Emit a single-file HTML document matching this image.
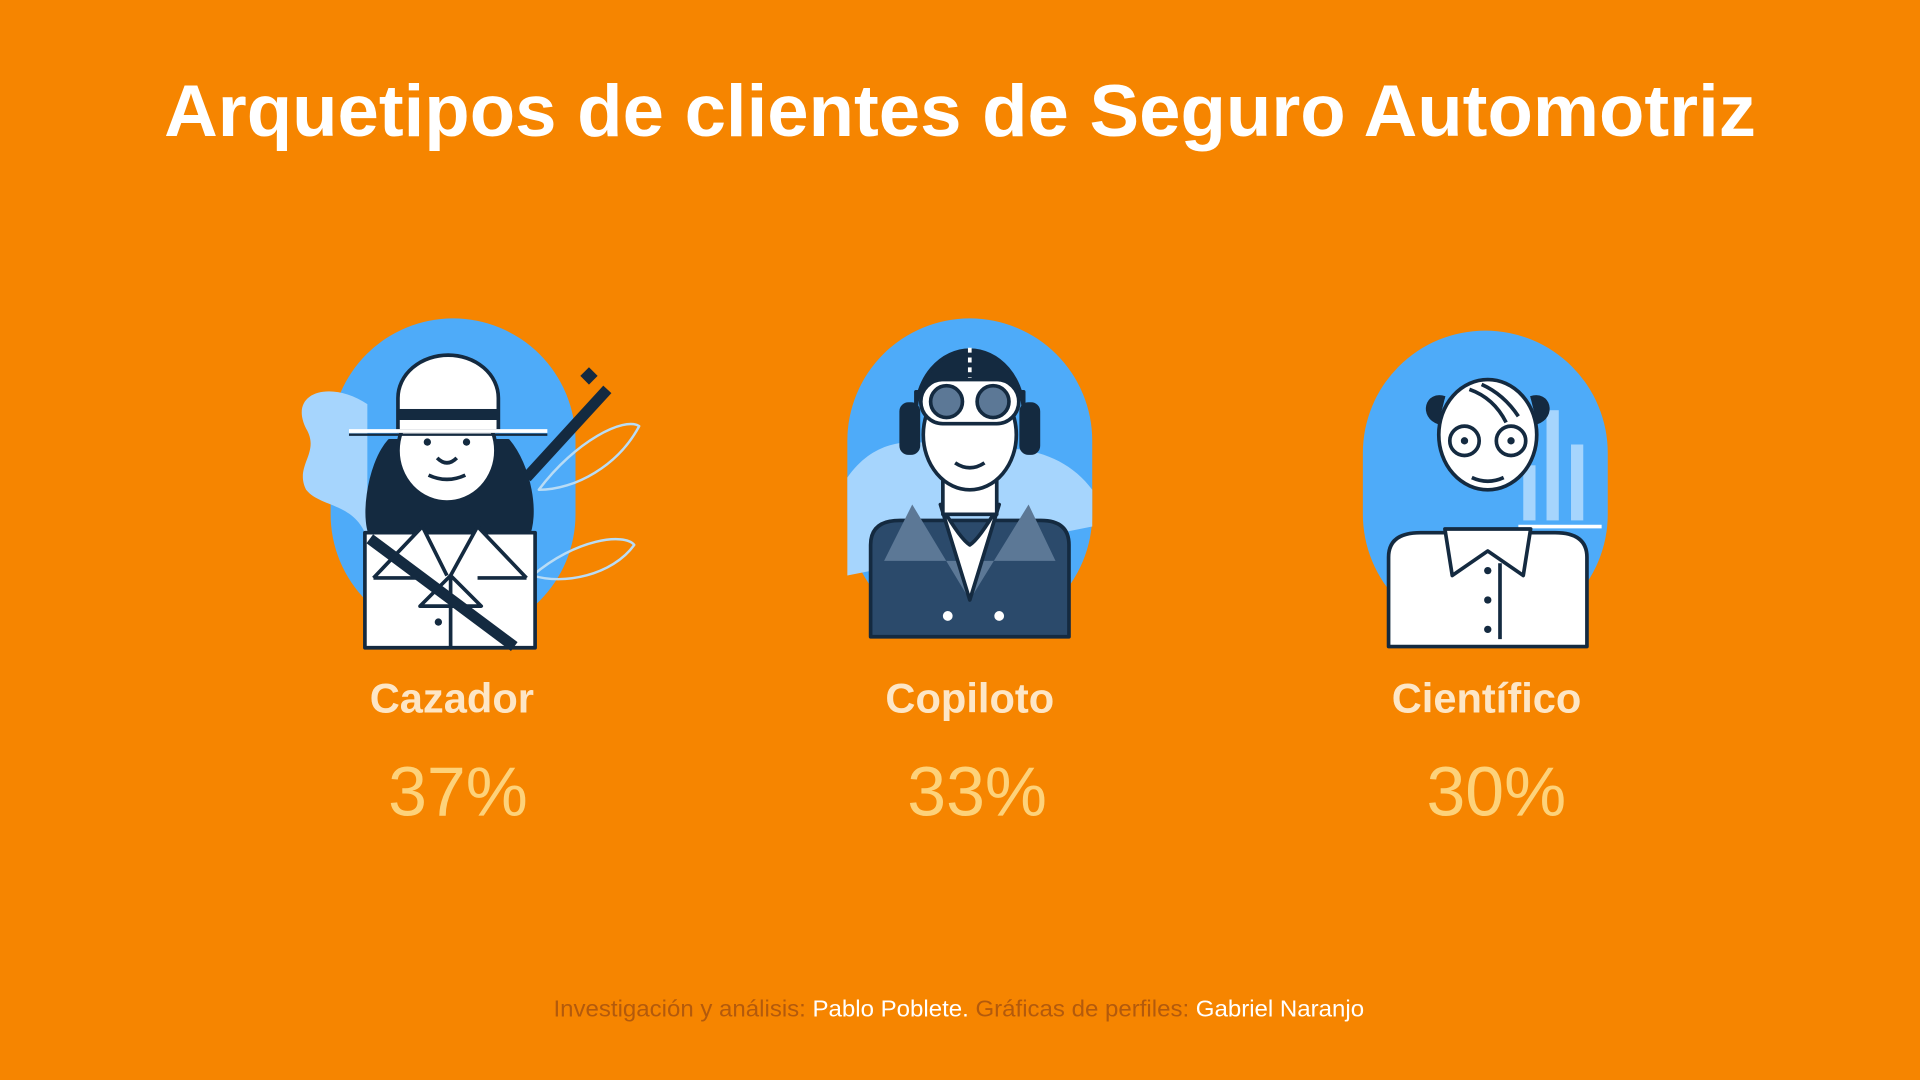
<!DOCTYPE html>
<html><head><meta charset="utf-8"><style>
html,body{margin:0;padding:0;background:#f68500;}
svg{display:block}
text{font-family:"Liberation Sans",sans-serif}
</style></head><body>
<svg width="1920" height="1080" viewBox="0 0 1568 882" xmlns="http://www.w3.org/2000/svg">
<rect width="1568" height="882" fill="#f68500"/>
<text x="784" y="111" text-anchor="middle" font-size="60" font-weight="bold" fill="#fff" textLength="1300" lengthAdjust="spacingAndGlyphs">Arquetipos de clientes de Seguro Automotriz</text>

<!-- Cazador -->
<g stroke="#142a40" stroke-width="3" stroke-linejoin="round">
<path d="M270 360 A100 100 0 0 1 470 360 L470 420 A100 100 0 0 1 270 420 Z" fill="#4eabf9" stroke="none"/>
<path d="M300 330 C270 310 235 320 250 350 C262 370 240 380 250 400 C262 415 290 410 300 440 Z" fill="#a6d5fd" stroke="none"/>
<path d="M440 400 C470 360 510 340 522 348 C505 380 470 400 440 400Z" fill="none" stroke="#b9dcf5" stroke-width="2"/>
<path d="M435 470 C470 440 510 435 518 445 C500 470 460 478 435 470Z" fill="none" stroke="#b9dcf5" stroke-width="2"/>
<line x1="430" y1="390" x2="496" y2="318" stroke-width="9"/>
<rect x="476" y="302" width="10" height="10" fill="#142a40" stroke="none" transform="rotate(45 481 307)"/>
<path d="M318 360 C300 380 295 430 305 440 L430 440 C440 420 432 380 415 360 Z" fill="#142a40"/>
<rect x="298" y="435" width="139" height="94" fill="#fff"/>
<path d="M305 472 L345 430 L365 470 M430 472 L390 430 L368 470 M345 472 L305 472 M390 472 L430 472 M343 495 L368 470 L393 495 Z" fill="#fff"/>
<line x1="368" y1="470" x2="368" y2="528"/>
<line x1="302" y1="440" x2="420" y2="528" stroke-width="9"/>
<circle cx="358" cy="508" r="3" fill="#142a40" stroke="none"/>
<ellipse cx="365" cy="368" rx="40" ry="42" fill="#fff"/>
<path d="M325 352 L325 325 A41 35 0 0 1 407 325 L407 352 Z" fill="#fff"/>
<rect x="325" y="334" width="82" height="9" fill="#142a40" stroke="none"/>
<line x1="285" y1="352" x2="447" y2="352" stroke="#fff" stroke-width="3"/>
<line x1="285" y1="355" x2="447" y2="355" stroke-width="2"/>
<circle cx="349" cy="361" r="3" fill="#142a40" stroke="none"/>
<circle cx="381" cy="361" r="3" fill="#142a40" stroke="none"/>
<path d="M357 374 Q365 382 373 374" fill="none"/>
<path d="M350 388 Q365 395 380 388" fill="none"/>
</g>

<!-- Copiloto -->
<g stroke="#142a40" stroke-width="3" stroke-linejoin="round">
<path d="M692 360 A100 100 0 0 1 892 360 L892 420 A100 100 0 0 1 692 420 Z" fill="#4eabf9" stroke="none"/>
<path d="M692 390 C720 350 760 360 790 370 C830 360 870 370 892 400 L892 430 L692 470 Z" fill="#a6d5fd" stroke="none"/>
<path d="M711 520 L711 445 Q711 425 735 425 L850 425 Q873 425 873 445 L873 520 Z" fill="#2b4a6b"/>
<path d="M722 458 L745 412 L792 490 L840 412 L862 458 Z" fill="#5c7896" stroke="none"/>
<path d="M768 412 L792 490 L816 412 Q800 440 792 445 Q784 440 768 412Z" fill="#fff"/>
<circle cx="774" cy="503" r="4" fill="#fff" stroke="none"/>
<circle cx="816" cy="503" r="4" fill="#fff" stroke="none"/>
<rect x="770" y="380" width="44" height="40" fill="#fff"/>
<ellipse cx="792" cy="355" rx="38" ry="45" fill="#fff"/>
<path d="M748 338 A44 52 0 0 1 836 338 L836 320 L748 320 Z" fill="#142a40"/>
<rect x="736" y="330" width="14" height="40" rx="6" fill="#142a40"/>
<rect x="834" y="330" width="14" height="40" rx="6" fill="#142a40"/>
<line x1="792" y1="284" x2="792" y2="310" stroke="#fff" stroke-dasharray="4 4"/>
<rect x="752" y="310" width="80" height="36" rx="18" fill="#fff"/>
<circle cx="773" cy="328" r="13" fill="#5c7896"/>
<circle cx="811" cy="328" r="13" fill="#5c7896"/>
<path d="M780 378 Q792 386 804 378" fill="none"/>
</g>

<!-- Cientifico -->
<g stroke="#142a40" stroke-width="3" stroke-linejoin="round">
<path d="M1113 370 A100 100 0 0 1 1313 370 L1313 420 A100 100 0 0 1 1113 420 Z" fill="#4eabf9" stroke="none"/>
<rect x="1244" y="380" width="10" height="45" fill="#a6d5fd" stroke="none"/>
<rect x="1263" y="335" width="10" height="90" fill="#a6d5fd" stroke="none"/>
<rect x="1283" y="363" width="10" height="62" fill="#a6d5fd" stroke="none"/>
<line x1="1240" y1="430" x2="1308" y2="430" stroke="#fff"/>
<path d="M1134 528 L1134 455 Q1134 435 1160 435 L1270 435 Q1296 435 1296 455 L1296 528 Z" fill="#fff"/>
<path d="M1180 432 L1186 470 L1215 450 L1244 470 L1250 432 Z" fill="#fff"/>
<line x1="1225" y1="460" x2="1225" y2="522"/>
<circle cx="1215" cy="466" r="3" fill="#142a40" stroke="none"/>
<circle cx="1215" cy="490" r="3" fill="#142a40" stroke="none"/>
<circle cx="1215" cy="514" r="3" fill="#142a40" stroke="none"/>
<ellipse cx="1215" cy="355" rx="40" ry="45" fill="#fff"/>
<path d="M1175 345 C1160 340 1165 320 1180 325" fill="#142a40"/>
<path d="M1255 345 C1270 340 1265 320 1250 325" fill="#142a40"/>
<path d="M1200 318 Q1220 325 1230 345 M1210 314 Q1228 322 1240 340" fill="none"/>
<circle cx="1196" cy="360" r="12" fill="#fff"/>
<circle cx="1234" cy="360" r="12" fill="#fff"/>
<circle cx="1196" cy="360" r="3" fill="#142a40" stroke="none"/>
<circle cx="1234" cy="360" r="3" fill="#142a40" stroke="none"/>
<path d="M1202 390 Q1215 396 1228 390" fill="none"/>
</g>

<g font-weight="bold" font-size="34" fill="#fde6c6" text-anchor="middle">
<text x="369" y="582">Cazador</text>
<text x="792" y="582">Copiloto</text>
<text x="1214" y="582">Científico</text>
</g>
<g font-size="57" fill="#fdd27a" text-anchor="middle">
<text x="374" y="666">37%</text>
<text x="798" y="666">33%</text>
<text x="1222" y="666">30%</text>
</g>
<text x="783" y="830" text-anchor="middle" font-size="19" fill="#b35a0c" textLength="662" lengthAdjust="spacingAndGlyphs">Investigación y análisis: <tspan fill="#fff">Pablo Poblete.</tspan> Gráficas de perfiles: <tspan fill="#fff">Gabriel Naranjo</tspan></text>
</svg>
</body></html>
